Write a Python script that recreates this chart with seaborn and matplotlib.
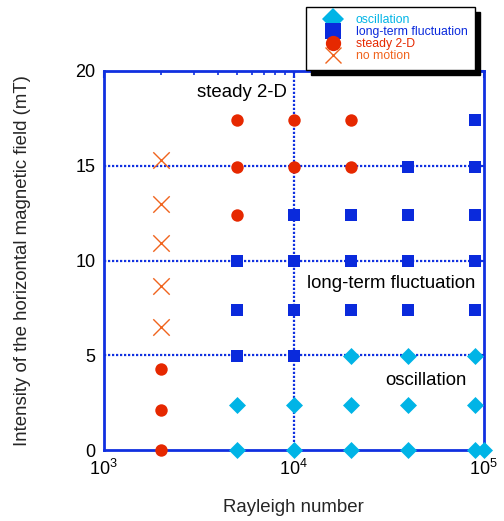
import numpy as np
import pandas as pd
import matplotlib
matplotlib.use("Agg")
import matplotlib.pyplot as plt
import seaborn as sns

# ---- data -----------------------------------------------------------------
osc_ra = [5e3, 1e4, 2e4, 4e4, 9e4, 1e5, 5e3, 1e4, 2e4, 4e4, 9e4, 2e4, 4e4, 9e4]
osc_b = [0, 0, 0, 0, 0, 0, 2.4, 2.4, 2.4, 2.4, 2.4, 4.95, 4.95, 4.95]

ltf_ra = [5e3, 1e4, 5e3, 1e4, 2e4, 4e4, 9e4, 5e3, 1e4, 2e4, 4e4, 9e4,
          1e4, 2e4, 4e4, 9e4, 4e4, 9e4, 9e4]
ltf_b = [4.95, 4.95, 7.4, 7.4, 7.4, 7.4, 7.4, 9.95, 9.95, 9.95, 9.95, 9.95,
         12.4, 12.4, 12.4, 12.4, 14.95, 14.95, 17.4]

s2d_ra = [2e3, 2e3, 2e3, 5e3, 5e3, 1e4, 2e4, 5e3, 1e4, 2e4]
s2d_b = [0, 2.1, 4.3, 12.4, 14.95, 14.95, 14.95, 17.4, 17.4, 17.4]

nom_ra = [2e3, 2e3, 2e3, 2e3, 2e3]
nom_b = [6.5, 8.65, 10.9, 13.0, 15.3]

regimes = ["oscillation", "long-term fluctuation", "steady 2-D", "no motion"]
colors = {"oscillation": "#00b4e6", "long-term fluctuation": "#0a2adc",
          "steady 2-D": "#e62800", "no motion": "#f0641e"}
markers = {"oscillation": "D", "long-term fluctuation": "s",
           "steady 2-D": "o", "no motion": "x"}
sizes = {"oscillation": 75, "long-term fluctuation": 80,
         "steady 2-D": 80, "no motion": 140}

df = pd.concat([
    pd.DataFrame({"Ra": osc_ra, "B": osc_b, "regime": "oscillation"}),
    pd.DataFrame({"Ra": ltf_ra, "B": ltf_b, "regime": "long-term fluctuation"}),
    pd.DataFrame({"Ra": s2d_ra, "B": s2d_b, "regime": "steady 2-D"}),
    pd.DataFrame({"Ra": nom_ra, "B": nom_b, "regime": "no motion"}),
], ignore_index=True)

sns.set_theme(style="white")
plt.rcParams["font.family"] = ["Liberation Sans", "DejaVu Sans"]
plt.rcParams["mathtext.fontset"] = "custom"
plt.rcParams["mathtext.rm"] = "Liberation Sans"

fig = plt.figure(figsize=(5.04, 5.21), dpi=100)
ax = fig.add_axes([0.206, 0.136, 0.754, 0.728])

blue = "#1030e0"
# dotted guide lines
for yv in [5, 10, 15]:
    ax.axhline(yv, color=blue, ls=(0, (1, 0.8)), lw=1.6, zorder=1)
ax.axvline(1e4, color=blue, ls=(0, (1, 0.8)), lw=1.6, zorder=1)

handles = []
for reg in regimes:
    sub = df[df["regime"] == reg]
    kw = dict(linewidth=1.0) if reg == "no motion" else dict(linewidth=0)
    sns.scatterplot(data=sub, x="Ra", y="B", marker=markers[reg],
                    color=colors[reg], s=sizes[reg], ax=ax, clip_on=False,
                    zorder=3, legend=False, **kw)
    handles.append(plt.Line2D([], [], ls="", marker=markers[reg],
                              color=colors[reg], markersize=11,
                              markeredgewidth=1.0 if reg == "no motion" else 0))

ax.set_xscale("log")
ax.set_xlim(1e3, 1e5)
ax.set_ylim(0, 20)
ax.set_yticks([0, 5, 10, 15, 20])
ax.set_xticks([1e3, 1e4, 1e5])
ax.set_xticklabels(["$10^3$", "$10^4$", "$10^5$"])

for sp in ax.spines.values():
    sp.set_color(blue)
    sp.set_linewidth(2)
ax.tick_params(which="both", direction="in", top=True, right=True,
               color=blue, labelsize=13, labelcolor="black")
ax.tick_params(which="major", length=5, width=1.5, pad=6)
ax.tick_params(which="minor", length=3, width=1.2)

ax.set_xlabel("Rayleigh number", fontsize=13.4)
ax.xaxis.set_label_coords(0.5, -0.128)
ax.set_ylabel("Intensity of the horizontal magnetic field (mT)", fontsize=13.4)
ax.yaxis.set_label_coords(-0.192, 0.5)

ax.text(3085, 18.84, "steady 2-D", fontsize=13.4, va="center", color="black")
ax.text(11700, 8.81, "long-term fluctuation", fontsize=13.4, va="center",
        color="black")
ax.text(30100, 3.69, "oscillation", fontsize=13.4, va="center", color="black")

leg = fig.legend(handles, regimes, loc="upper right",
                 bbox_to_anchor=(0.9425, 0.9866), borderaxespad=0,
                 fontsize=8.8, frameon=True, fancybox=False,
                 shadow={"color": "black", "alpha": 1, "ox": 3.5, "oy": -3.5},
                 edgecolor="black", framealpha=1, labelspacing=0.0,
                 handletextpad=0.35, borderpad=0.6, handlelength=3.1)
leg.get_frame().set_linewidth(1.0)
for txt, reg in zip(leg.get_texts(), regimes):
    txt.set_color(colors[reg])

fig.savefig("out.png", dpi=100)
